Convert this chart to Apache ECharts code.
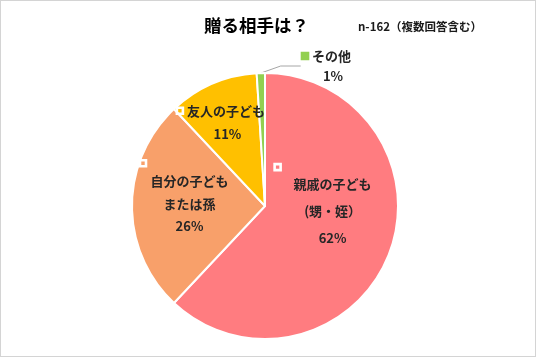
<!DOCTYPE html>
<html>
<head>
<meta charset="utf-8">
<script src="https://cdn.jsdelivr.net/npm/echarts@6/dist/echarts.min.js"></script>
<style>
html,body{margin:0;padding:0;background:#fff;}
#c{width:534px;height:355px;border:1px solid #d4d4d4;}
</style>
</head>
<body>
<div id="c"></div>
<script>
// ---- data ----
const categories = ['親戚の子ども', '自分の子ども', '友人の子ども', 'その他'];
const subLines = [['(甥・姪）'], ['または孫'], [], []];
const values = [62, 26, 11, 1];
const percentLabels = ['62%', '26%', '11%', '1%'];
const titleText = '贈る相手は？';
const noteText = 'n-162（複数回答含む）';
const colors = ['#FF7C80', '#F8A06A', '#FFC000', '#92D050'];

const font = '"Noto Sans CJK JP", "Noto Sans", sans-serif';
const chart = echarts.init(document.getElementById('c'), null, {renderer: 'canvas'});

function labelFor(i) {
  const name = categories[i];
  const pct = percentLabels[i];
  if (i === 0) {
    return ['{sqA| }{padA|}', '{t0|' + name + '}', '{t0|' + subLines[0][0] + '}', '{t0|' + pct + '}'].join('\n');
  } else if (i === 1) {
    return ['{sqB| }{padB|}', '{t1|' + name + '}', '{t1|' + subLines[1][0] + '}', '{t1|' + pct + '}'].join('\n');
  } else if (i === 2) {
    return ['{sqC| }{gap|}{t2|' + name + '}{gap2|}', '{t2|' + pct + '}'].join('\n');
  } else {
    return ['{sqD| }{gap|}{t3|' + name + '}{gap2|}', '{t3|' + pct + '}'].join('\n');
  }
}

const txt = (lh) => ({fontSize: 13, fontWeight: 'bold', color: '#262626', fontFamily: font, lineHeight: lh});
const sq = (lh, fill, border) => ({width: 6, height: 6, lineHeight: lh, backgroundColor: fill, borderColor: border, borderWidth: 1.3, fontSize: 1});

const labelOffsets = [
  {dx: 3, dy: -24},
  {dx: -6, dy: -9},
  {dx: -10, dy: -20},
  {x: 332, y: 65, align: 'center', verticalAlign: 'middle'}
];

chart.setOption({
  animation: false,
  backgroundColor: '#fff',
  title: [
    {text: titleText, left: 203, top: 16, padding: 0,
     textStyle: {fontSize: 17.5, fontWeight: 'bold', color: '#000', fontFamily: font}},
    {text: noteText, left: 357, top: 20, padding: 0,
     textStyle: {fontSize: 11.5, fontWeight: 'bold', color: '#1a1a1a', fontFamily: font}}
  ],
  series: [{
    type: 'pie',
    center: [264, 205],
    radius: [0, 133],
    startAngle: 90,
    clockwise: true,
    avoidLabelOverlap: false,
    itemStyle: {borderColor: '#fff', borderWidth: 2},
    emphasis: {disabled: true},
    label: {
      show: true,
      position: 'inside',
      formatter: (p) => labelFor(p.dataIndex),
      rich: {
        t0: txt(27), t1: txt(22.5), t2: txt(23), t3: txt(20),
        sqA: sq(7, 'transparent', '#fff'),
        sqB: sq(14, 'transparent', '#fff'),
        sqC: sq(23, 'transparent', '#fff'),
        sqD: sq(20, '#92D050', '#92D050'),
        padA: {width: 110, fontSize: 1, lineHeight: 7},
        padB: {width: 93, fontSize: 1, lineHeight: 14},
        gap: {width: 4, fontSize: 1},
        gap2: {width: 13, fontSize: 1}
      }
    },
    labelLayout: (p) => labelOffsets[p.dataIndex],
    data: categories.map((c, i) => {
      const d = {name: c, value: values[i], itemStyle: {color: colors[i]}};
      if (i === 3) {
        d.label = {position: 'outside'};
        d.labelLine = {show: true, length: 10, length2: 20, smooth: false,
          lineStyle: {color: '#a6a6a6', width: 1}};
      }
      return d;
    })
  }]
});
</script>
</body>
</html>
